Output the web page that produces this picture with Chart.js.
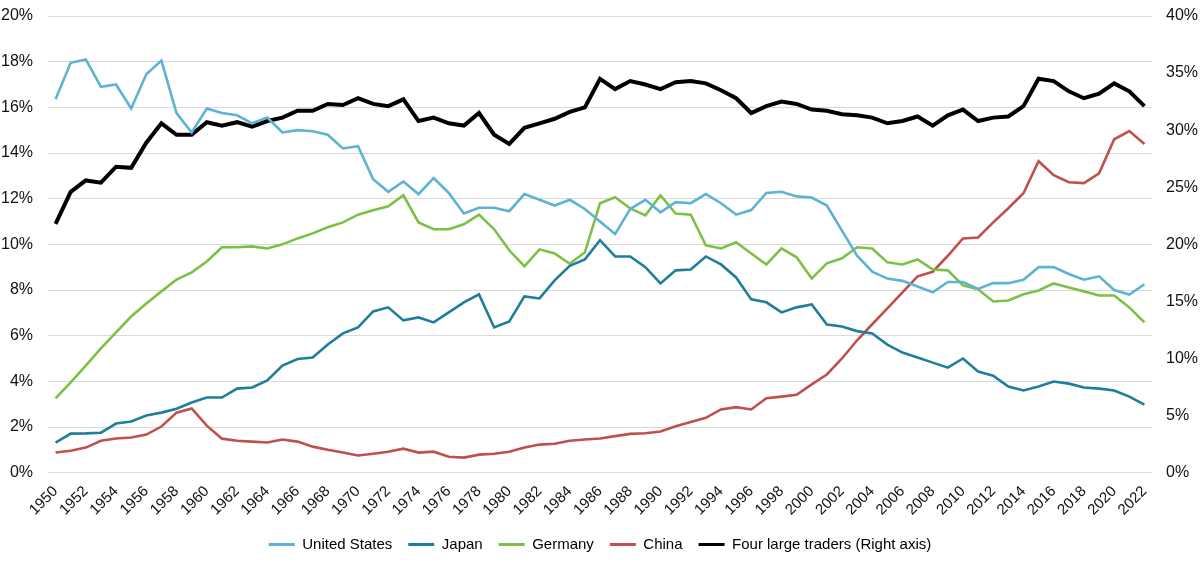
<!DOCTYPE html>
<html>
<head>
<meta charset="utf-8">
<script src="https://cdn.jsdelivr.net/npm/chart.js@4.4.0/dist/chart.umd.min.js"></script>
<style>
  html, body { margin: 0; padding: 0; background: #fff; }
  #wrap { width: 1200px; height: 563px; position: relative; }
</style>
</head>
<body>
<div id="wrap"><canvas id="tradeChart"></canvas></div>
<script>
const years = [
  "1950","1951","1952","1953","1954","1955","1956","1957","1958","1959",
  "1960","1961","1962","1963","1964","1965","1966","1967","1968","1969",
  "1970","1971","1972","1973","1974","1975","1976","1977","1978","1979",
  "1980","1981","1982","1983","1984","1985","1986","1987","1988","1989",
  "1990","1991","1992","1993","1994","1995","1996","1997","1998","1999",
  "2000","2001","2002","2003","2004","2005","2006","2007","2008","2009",
  "2010","2011","2012","2013","2014","2015","2016","2017","2018","2019",
  "2020","2021","2022"
];

// shares of world trade, % (left axis)
const unitedStates = [
  16.35, 17.95, 18.1, 16.9, 17.0, 15.95, 17.45, 18.05, 15.75, 14.9,
  15.95, 15.75, 15.65, 15.3, 15.55, 14.9, 15.0, 14.95, 14.8, 14.2,
  14.3, 12.85, 12.3, 12.75, 12.2, 12.9, 12.25, 11.35, 11.6, 11.6,
  11.45, 12.2, 11.95, 11.7, 11.95, 11.55, 11.0, 10.45, 11.55, 11.95,
  11.4, 11.85, 11.8, 12.2, 11.8, 11.3, 11.5, 12.25, 12.3, 12.1,
  12.05, 11.7, 10.6, 9.5, 8.8, 8.5, 8.4, 8.15, 7.9, 8.35,
  8.35, 8.05, 8.3, 8.3, 8.45, 9.0, 9.0, 8.7, 8.45, 8.6,
  8.0, 7.8, 8.25
];
const japan = [
  1.32, 1.71, 1.72, 1.75, 2.15, 2.24, 2.5, 2.63, 2.8, 3.07,
  3.29, 3.29, 3.68, 3.73, 4.04, 4.69, 4.98, 5.04, 5.61, 6.1,
  6.36, 7.06, 7.24, 6.67, 6.8, 6.58, 7.02, 7.46, 7.81, 6.36,
  6.62, 7.72, 7.63, 8.42, 9.06, 9.34, 10.18, 9.47, 9.47, 9.0,
  8.29, 8.86, 8.9, 9.47, 9.12, 8.55, 7.59, 7.46, 7.02, 7.24,
  7.37, 6.49, 6.4, 6.2, 6.1, 5.61, 5.26, 5.04, 4.82, 4.6,
  5.0, 4.43, 4.25, 3.77, 3.6, 3.77, 3.99, 3.9, 3.73, 3.68,
  3.6, 3.33, 2.98
];
const germany = [
  3.25, 3.95, 4.69, 5.44, 6.14, 6.84, 7.41, 7.94, 8.46, 8.77,
  9.25, 9.87, 9.87, 9.91, 9.82, 10.0, 10.26, 10.48, 10.75, 10.96,
  11.3, 11.49, 11.67, 12.15, 10.96, 10.66, 10.66, 10.88, 11.3, 10.66,
  9.74, 9.04, 9.78, 9.6, 9.15, 9.65, 11.8, 12.06, 11.57, 11.27,
  12.15, 11.35, 11.3, 9.96, 9.82, 10.09, 9.6, 9.12, 9.82, 9.43,
  8.5, 9.17, 9.39, 9.87, 9.82, 9.21, 9.12, 9.34, 8.9, 8.86,
  8.2, 8.03, 7.5, 7.54, 7.81, 7.98, 8.29, 8.11, 7.94, 7.76,
  7.76, 7.24, 6.58
];
const china = [
  0.88, 0.96, 1.1, 1.4, 1.5, 1.54, 1.67, 2.02, 2.63, 2.81,
  2.06, 1.49, 1.4, 1.36, 1.32, 1.45, 1.36, 1.14, 1.0, 0.88,
  0.75, 0.83, 0.92, 1.05, 0.88, 0.92, 0.7, 0.66, 0.79, 0.83,
  0.92, 1.1, 1.23, 1.27, 1.4, 1.45, 1.5, 1.6, 1.7, 1.73,
  1.8, 2.03, 2.22, 2.4, 2.77, 2.87, 2.77, 3.26, 3.33, 3.41,
  3.87, 4.3, 5.0, 5.8, 6.5, 7.2, 7.9, 8.6, 8.8, 9.5,
  10.26, 10.3, 10.96, 11.58, 12.24, 13.64, 13.03, 12.72, 12.68, 13.11,
  14.6, 14.96, 14.39
];
// right axis
const fourLarge = [
  21.8, 24.6, 25.6, 25.4, 26.8, 26.7, 28.9, 30.6, 29.6, 29.6,
  30.7, 30.4, 30.7, 30.3, 30.8, 31.1, 31.7, 31.7, 32.3, 32.2,
  32.8, 32.3, 32.1, 32.7, 30.8, 31.1, 30.6, 30.4, 31.5, 29.6,
  28.8, 30.2, 30.6, 31.0, 31.6, 32.0, 34.5, 33.6, 34.3, 34.0,
  33.6, 34.2, 34.3, 34.1, 33.5, 32.8, 31.5, 32.1, 32.5, 32.3,
  31.8, 31.7, 31.4, 31.3, 31.1, 30.6, 30.8, 31.2, 30.4, 31.3,
  31.8, 30.8, 31.1, 31.2, 32.1, 34.5, 34.3, 33.4, 32.8, 33.2,
  34.1, 33.4, 32.1
];

const FONT = "'Liberation Sans', Arial, sans-serif";

function line(label, data, color, width, axis) {
  return {
    label: label,
    data: data,
    borderColor: color,
    backgroundColor: color,
    borderWidth: width,
    pointRadius: 0,
    tension: 0,
    yAxisID: axis
  };
}

// fixed axis width, and less room kept above the top tick
function fitSide(scale) {
  scale.width = 48;
  scale.paddingTop = 16;
  scale.paddingBottom = 4;
}

new Chart(document.getElementById("tradeChart"), {
  type: "line",
  data: {
    labels: years,
    datasets: [
      line("United States", unitedStates, "#5cb3d3", 2.6, "y"),
      line("Japan", japan, "#1f7e9a", 2.6, "y"),
      line("Germany", germany, "#7cc144", 2.6, "y"),
      line("China", china, "#c0504d", 2.6, "y"),
      line("Four large traders (Right axis)", fourLarge, "#000000", 4, "y1")
    ]
  },
  options: {
    responsive: true,
    maintainAspectRatio: false,
    animation: false,
    layout: { padding: { top: 0, left: 0, right: 0, bottom: 1 } },
    plugins: {
      tooltip: { enabled: false },
      legend: {
        position: "bottom",
        labels: {
          color: "#111",
          font: { family: FONT, size: 15 },
          boxWidth: 26,
          boxHeight: 3,
          padding: 16,
          generateLabels(chart) {
            return chart.data.datasets.map((ds, i) => ({
              text: ds.label,
              fillStyle: ds.borderColor,
              strokeStyle: ds.borderColor,
              lineWidth: 0,
              hidden: false,
              datasetIndex: i
            }));
          }
        }
      }
    },
    scales: {
      x: {
        offset: true,
        grid: { display: false },
        border: { display: false },
        ticks: {
          autoSkip: false,
          minRotation: 45,
          maxRotation: 45,
          color: "#111",
          font: { family: FONT, size: 15 },
          padding: 2,
          callback(val, idx) { return idx % 2 === 0 ? years[idx] : ""; }
        }
      },
      y: {
        position: "left",
        min: 0,
        max: 20,
        grid: { color: "#d9d9d9", lineWidth: 1, drawTicks: false },
        border: { display: false },
        ticks: {
          stepSize: 2,
          padding: 15,
          color: "#111",
          font: { family: FONT, size: 16 },
          callback: v => v + "%"
        },
        afterFit: fitSide
      },
      y1: {
        position: "right",
        min: 0,
        max: 40,
        grid: { drawOnChartArea: false, drawTicks: false },
        border: { display: false },
        ticks: {
          stepSize: 5,
          padding: 14,
          color: "#111",
          font: { family: FONT, size: 16 },
          callback: v => v + "%"
        },
        afterFit: fitSide
      }
    }
  }
});
</script>
</body>
</html>
